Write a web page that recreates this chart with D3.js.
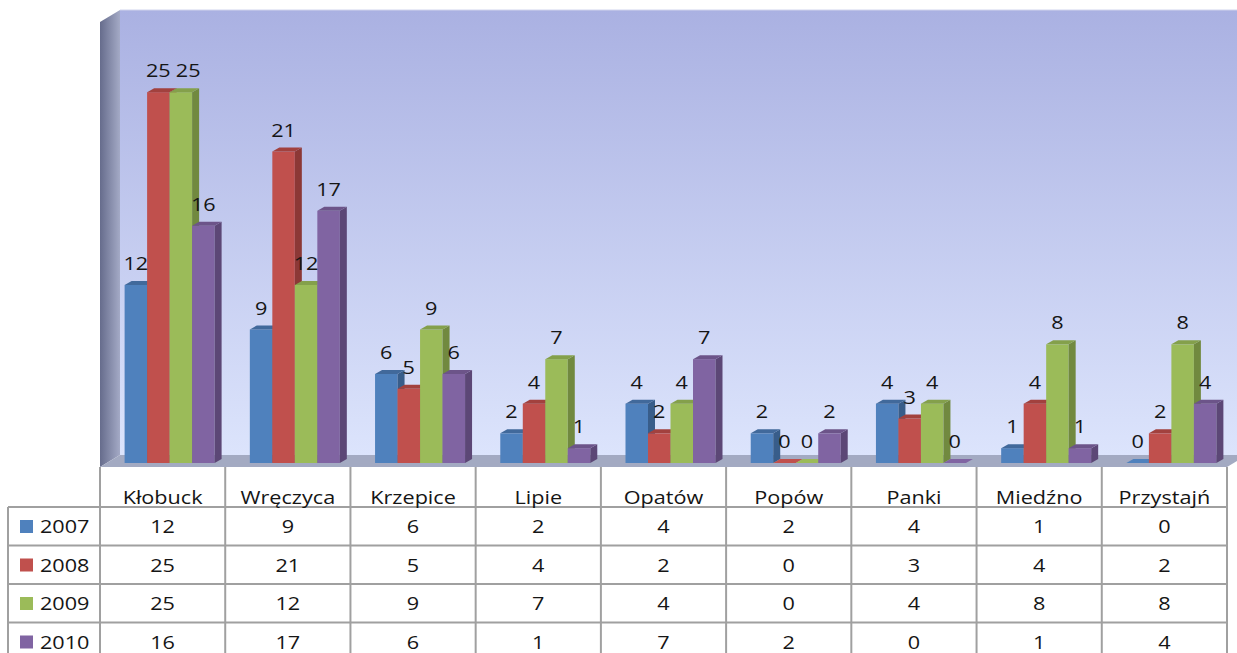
<!DOCTYPE html>
<html>
<head>
<meta charset="utf-8">
<script src="https://cdn.jsdelivr.net/npm/d3@7"></script>
<style>
  body { margin: 0; background: #fff; }
  text { font-family: "Open Sans", sans-serif; fill: #151515; }
</style>
</head>
<body>
<div id="chart"></div>
<script>
// data
const categories = ["Kłobuck", "Wręczyca", "Krzepice", "Lipie", "Opatów", "Popów", "Panki", "Miedźno", "Przystajń"];
const series = ["2007", "2008", "2009", "2010"];
const v2007 = [12, 9, 6, 2, 4, 2, 4, 1, 0];
const v2008 = [25, 21, 5, 4, 2, 0, 3, 4, 2];
const v2009 = [25, 12, 9, 7, 4, 0, 4, 8, 8];
const v2010 = [16, 17, 6, 1, 7, 2, 0, 1, 4];
const yTicks = [0, 30];

const values = [v2007, v2008, v2009, v2010];
const colors = {
  front: ["#4f81bd", "#c0504d", "#9bbb59", "#8064a2"],
  side:  ["#385d8a", "#8c3836", "#71893f", "#5c4776"],
  top:   ["#41699b", "#a2413e", "#84a04b", "#6c5489"]
};

const width = 1237, height = 653;
const left = 100, right = 1227;
const depth = { dx: 20, dy: -12 };   // wall depth
const barDepth = { dx: 7, dy: -4 };  // bar depth
const barShift = { dx: 7, dy: -4 };  // bars sit a bit behind the front plane
const fontSize = 18.5;
const sx = 1.17;                     // horizontal stretch of text

const svg = d3.select("#chart").append("svg")
  .attr("width", width)
  .attr("height", height);

const defs = svg.append("defs");
const wallGrad = defs.append("linearGradient").attr("id", "wall")
  .attr("x1", 0).attr("y1", 0).attr("x2", 0).attr("y2", 1);
wallGrad.append("stop").attr("offset", "0%").attr("stop-color", "#aab1e2");
wallGrad.append("stop").attr("offset", "100%").attr("stop-color", "#dce4fc");
const sideGrad = defs.append("linearGradient").attr("id", "side")
  .attr("x1", 0).attr("y1", 0).attr("x2", 1).attr("y2", 0);
sideGrad.append("stop").attr("offset", "0%").attr("stop-color", "#666c8c");
sideGrad.append("stop").attr("offset", "100%").attr("stop-color", "#a4aac6");

const x0 = d3.scaleBand().domain(categories).range([left, right]);
const x1 = d3.scaleBand().domain(series).range([0, 90]);
const y = d3.scaleLinear().domain(d3.extent(yTicks)).range([467, 22]);

const yTop = y(yTicks[1]), yBase = y(0);

// back wall, side wall, floor
svg.append("rect")
  .attr("x", left + depth.dx).attr("y", yTop + depth.dy)
  .attr("width", right - left + 30).attr("height", yBase - yTop)
  .attr("fill", "url(#wall)");
svg.append("line")
  .attr("x1", left + depth.dx).attr("x2", width)
  .attr("y1", yTop + depth.dy).attr("y2", yTop + depth.dy)
  .attr("stroke", "#d0d4ec").attr("stroke-width", 1);
svg.append("polygon")
  .attr("points", [[left, yTop], [left + depth.dx, yTop + depth.dy],
    [left + depth.dx, yBase + depth.dy], [left, yBase]].join(" "))
  .attr("fill", "url(#side)");
svg.append("polygon")
  .attr("points", [[left, yBase], [left + depth.dx, yBase + depth.dy],
    [right + depth.dx, yBase + depth.dy], [right, yBase]].join(" "))
  .attr("fill", "#a3aac2");

// 3D bars, left to right so later faces cover earlier sides
const pad = (x0.bandwidth() - 90) / 2;
categories.forEach((c, ci) => {
  series.forEach((s, si) => {
    const v = values[si][ci];
    const bx = x0(c) + pad + x1(s) + barShift.dx;
    const w = x1.bandwidth();
    const yb = y(0) + barShift.dy;
    const yt = y(v) + barShift.dy;
    const g = svg.append("g");
    if (v > 0) {
      g.append("rect").attr("x", bx).attr("y", yt)
        .attr("width", w).attr("height", yb - yt)
        .attr("fill", colors.front[si]);
      g.append("polygon")
        .attr("points", [[bx + w, yt], [bx + w + barDepth.dx, yt + barDepth.dy],
          [bx + w + barDepth.dx, yb + barDepth.dy], [bx + w, yb]].join(" "))
        .attr("fill", colors.side[si]);
    }
    g.append("polygon")
      .attr("points", [[bx, yt], [bx + barDepth.dx, yt + barDepth.dy],
        [bx + w + barDepth.dx, yt + barDepth.dy], [bx + w, yt]].join(" "))
      .attr("fill", v > 0 ? colors.top[si] : colors.front[si]);
  });
});

function stretchedText(sel, x, yy, txt, anchor) {
  return sel.append("text")
    .attr("transform", "translate(" + x + "," + yy + ") scale(" + sx + ",1)")
    .attr("text-anchor", anchor || "middle")
    .attr("font-size", fontSize)
    .text(txt);
}

// data labels, nudged right when two neighbours would collide
categories.forEach((c, ci) => {
  let prev = null;
  series.forEach((s, si) => {
    const v = values[si][ci];
    const bx = x0(c) + pad + x1(s) + barShift.dx;
    const lw = String(v).length * 0.572 * fontSize * sx;
    let lx = bx + x1.bandwidth() / 2;
    const ly = y(v) + barShift.dy - 15;
    if (prev && Math.abs(prev.y - ly) < 14 && lx - lw / 2 < prev.right + 5) {
      lx = prev.right + 5 + lw / 2;
    }
    stretchedText(svg, lx, ly, v);
    prev = { y: ly, right: lx + lw / 2 };
  });
});

// data table
const headTop = yBase, headBottom = 507, rowH = 38.5;
const legendLeft = 8;
const grid = svg.append("g").attr("stroke", "#a0a0a0").attr("stroke-width", 2);

categories.forEach(c => {
  stretchedText(svg, x0(c) + x0.bandwidth() / 2, 504, c);
});

const rowLines = d3.range(series.length + 1).map(i => headBottom + i * rowH);
rowLines.forEach(ry => {
  grid.append("line").attr("x1", legendLeft).attr("x2", right)
    .attr("y1", ry).attr("y2", ry);
});
categories.concat(["_end"]).forEach((c, i) => {
  const cx = i < categories.length ? x0(c) : right;
  grid.append("line").attr("x1", cx).attr("x2", cx)
    .attr("y1", headTop).attr("y2", height);
});
grid.append("line").attr("x1", legendLeft).attr("x2", legendLeft)
  .attr("y1", headBottom).attr("y2", height);

series.forEach((s, si) => {
  const ry = headBottom + si * rowH;
  svg.append("rect").attr("x", 20).attr("y", ry + 13)
    .attr("width", 13).attr("height", 13)
    .attr("fill", colors.front[si]);
  stretchedText(svg, 40, ry + 26, s, "start");
  categories.forEach((c, ci) => {
    stretchedText(svg, x0(c) + x0.bandwidth() / 2, ry + 26, values[si][ci]);
  });
});
</script>
</body>
</html>
